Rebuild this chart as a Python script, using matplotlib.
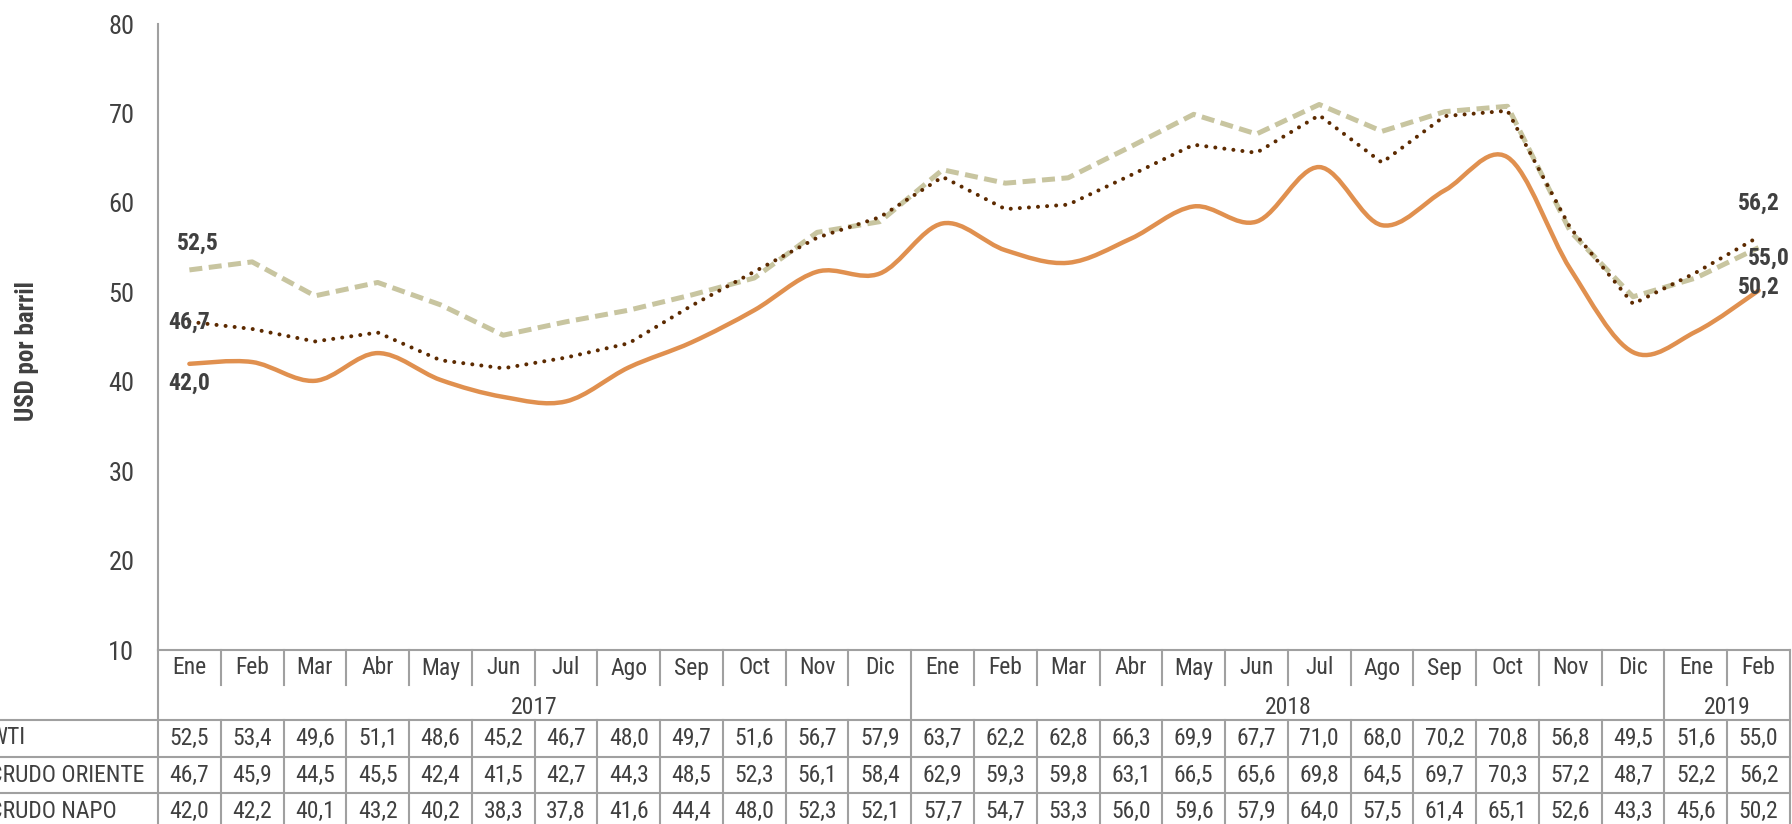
import numpy as np
import matplotlib
matplotlib.use("Agg")
import matplotlib.pyplot as plt
from matplotlib import font_manager
from matplotlib.path import Path
from matplotlib.patches import PathPatch

meses = ["Ene", "Feb", "Mar", "Abr", "May", "Jun", "Jul", "Ago", "Sep", "Oct", "Nov", "Dic",
         "Ene", "Feb", "Mar", "Abr", "May", "Jun", "Jul", "Ago", "Sep", "Oct", "Nov", "Dic",
         "Ene", "Feb"]
anios = ["2017", "2018", "2019"]
anio_span = [(0, 12), (12, 24), (24, 26)]
wti = [52.5, 53.4, 49.6, 51.1, 48.6, 45.2, 46.7, 48.0, 49.7, 51.6, 56.7, 57.9,
       63.7, 62.2, 62.8, 66.3, 69.9, 67.7, 71.0, 68.0, 70.2, 70.8, 56.8, 49.5,
       51.6, 55.0]
oriente = [46.7, 45.9, 44.5, 45.5, 42.4, 41.5, 42.7, 44.3, 48.5, 52.3, 56.1, 58.4,
           62.9, 59.3, 59.8, 63.1, 66.5, 65.6, 69.8, 64.5, 69.7, 70.3, 57.2, 48.7,
           52.2, 56.2]
napo = [42.0, 42.2, 40.1, 43.2, 40.2, 38.3, 37.8, 41.6, 44.4, 48.0, 52.3, 52.1,
        57.7, 54.7, 53.3, 56.0, 59.6, 57.9, 64.0, 57.5, 61.4, 65.1, 52.6, 43.3,
        45.6, 50.2]
filas = [("WTI", wti), ("CRUDO ORIENTE", oriente), ("CRUDO NAPO", napo)]

c_wti = "#C8C5A0"
c_ori = "#5C2A00"
c_napo = "#E0904F"
c_txt = "#404040"
c_grid = "#A0A0A0"

# look for a narrow face (the original uses Arial Narrow)
fonts = font_manager.fontManager.ttflist
names = {f.name for f in fonts}
fam, stretch, k = "Liberation Sans", "normal", 0.84
for cand in ["Liberation Sans Narrow", "Arial Narrow", "Roboto Condensed", "Open Sans Condensed"]:
    if cand in names:
        fam, k = cand, 1.0
        break
else:
    cond = [f.name for f in fonts if "condensed" in f.name.lower() or "narrow" in f.name.lower()]
    if cond:
        fam, k = cond[0], 1.0
    elif any(f.name == "DejaVu Sans" and f.stretch == "condensed" for f in fonts):
        fam, stretch, k = "DejaVu Sans", "condensed", 0.86
plt.rcParams["font.family"] = [fam, "DejaVu Sans"]
plt.rcParams["font.stretch"] = stretch

W, H = 1792, 824
x0, x1 = 158, 1790          # plot area in pixels
ytop, ybot = 24, 650
n = len(meses)
cw = (x1 - x0) / n

fig = plt.figure(figsize=(W / 100, H / 100), dpi=100)
ax = fig.add_axes([x0 / W, 1 - ybot / H, (x1 - x0) / W, (ybot - ytop) / H])
x = np.arange(n)
ax.set_xlim(-0.5, n - 0.5)
ax.set_ylim(10, 80)
ax.set_yticks(range(10, 81, 10))
ax.tick_params(axis="y", length=0, pad=17, labelsize=19 * k, labelcolor=c_txt)
ax.tick_params(axis="x", length=0, labelbottom=False)
for s in ["top", "right", "bottom"]:
    ax.spines[s].set_visible(False)
ax.spines["left"].set_color(c_grid)
ax.spines["left"].set_linewidth(1.5)
fig.text(27 / W, 1 - 351 / H, "USD por barril", rotation=90, ha="center", va="center",
         fontsize=18 * k, fontweight="bold", color=c_txt)

ax.plot(x, wti, color=c_wti, lw=3.6, dashes=(2.6, 1.3), solid_capstyle="butt")
ax.plot(x, oriente, color=c_ori, lw=2.9, linestyle=(0, (0.01, 2.25)), dash_capstyle="round")

# smoothed line (Excel style) for Napo, drawn as a bezier path through the points
yv = np.array(napo)
verts = [(x[0], yv[0])]
codes = [Path.MOVETO]
for i in range(n - 1):
    p0 = (x[max(i - 1, 0)], yv[max(i - 1, 0)])
    p1 = (x[i], yv[i])
    p2 = (x[i + 1], yv[i + 1])
    p3 = (x[min(i + 2, n - 1)], yv[min(i + 2, n - 1)])
    c1 = (p1[0] + (p2[0] - p0[0]) / 6, p1[1] + (p2[1] - p0[1]) / 6)
    c2 = (p2[0] - (p3[0] - p1[0]) / 6, p2[1] - (p3[1] - p1[1]) / 6)
    verts += [c1, c2, p2]
    codes += [Path.CURVE4] * 3
ax.add_patch(PathPatch(Path(verts, codes), fill=False, edgecolor=c_napo, lw=3.2, capstyle="round"))

lbl = dict(fontsize=17 * k, fontweight="bold", color=c_txt, textcoords="offset points", va="center")
fmt = lambda v: ("%.1f" % v).replace(".", ",")
ax.annotate(fmt(wti[0]), (0, wti[0]), xytext=(6, 19), ha="center", **lbl)
ax.annotate(fmt(oriente[0]), (0, oriente[0]), xytext=(0, 0), ha="center", **lbl)
ax.annotate(fmt(napo[0]), (0, napo[0]), xytext=(0, -14), ha="center", **lbl)
ax.annotate(fmt(oriente[-1]), (n - 1, oriente[-1]), xytext=(0, 24), ha="center", **lbl)
ax.annotate(fmt(wti[-1]), (n - 1, wti[-1]), xytext=(-8, -8), ha="left", **lbl)
ax.annotate(fmt(napo[-1]), (n - 1, napo[-1]), xytext=(0, 2), ha="center", **lbl)

# data table below the plot, in pixel coordinates
tb = fig.add_axes([0, 0, 1, 1])
tb.set_xlim(0, W)
tb.set_ylim(H, 0)
tb.axis("off")
tb.patch.set_alpha(0)
r_mes, r_anio, r0, r1, r2 = 650, 685, 720, 757, 793
lk = dict(color=c_grid, lw=1.5)
tb.plot([x0, x1], [r_mes, r_mes], **lk)
for yy in (r0, r1, r2):
    tb.plot([0, x1], [yy, yy], **lk)
tb.plot([x0, x0], [r_mes, H], **lk)
tb.plot([x1, x1], [r_mes, H], **lk)
ybreaks = [s for s, e in anio_span[1:]]
for i in range(1, n):
    xx = x0 + i * cw
    if i in ybreaks:
        tb.plot([xx, xx], [r_mes, H], **lk)
    else:
        tb.plot([xx, xx], [r_mes, r_anio], **lk)
        tb.plot([xx, xx], [r0, H], **lk)
tk = dict(fontsize=17 * k, color=c_txt, ha="center", va="center")
for i, m in enumerate(meses):
    tb.text(x0 + (i + 0.5) * cw, 668, m, **tk)
for a, (s, e) in zip(anios, anio_span):
    tb.text(x0 + (s + e) / 2 * cw, 708, a, **tk)
for (nombre, vals), yy in zip(filas, (r0, r1, r2)):
    tb.text(-11, yy + 18, nombre, fontsize=17 * k, color=c_txt, ha="left", va="center")
    for i, v in enumerate(vals):
        tb.text(x0 + (i + 0.5) * cw, yy + 18, fmt(v), **tk)

fig.savefig("out.png", dpi=100)
